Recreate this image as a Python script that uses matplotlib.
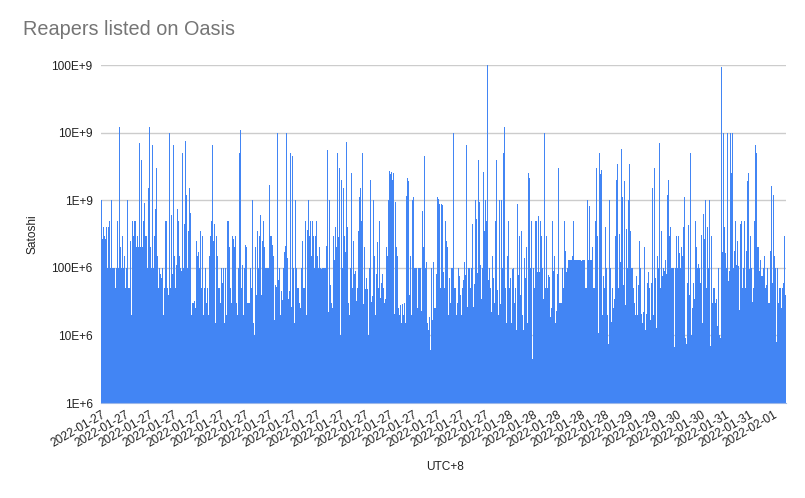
import numpy as np
import matplotlib
matplotlib.use('Agg')
import matplotlib.pyplot as plt
from matplotlib.ticker import FixedLocator, NullLocator

plt.rcParams['font.family'] = ['Liberation Sans', 'DejaVu Sans']

# Listing prices, in millions of satoshi, read left to right off the chart
prices_part1 = [
    1000, 270, 400, 300, 270, 400, 100, 400, 500, 100,
    1000, 100, 100, 100, 50, 100, 500, 100, 12000, 200,
    100, 300, 100, 150, 50, 100, 1000, 50, 50, 250,
    20, 500, 300, 500, 500, 200, 300, 200, 7000, 200,
    4000, 200, 500, 900, 300, 300, 100, 1500, 12000, 200,
    100, 6500, 100, 300, 750, 3000, 150, 50, 100, 80,
    70, 100, 20, 50, 500, 500, 50, 40, 10000, 50,
    600, 80, 6500, 150, 50, 110, 750, 500, 150, 100,
    90, 5000, 100, 450, 7500, 1200, 100, 350, 1500, 650,
    20, 30, 30, 32, 25, 250, 150, 170, 100, 350,
    50, 300, 20, 50, 100, 30, 50, 20, 150, 300,
    500, 6500, 250, 450,
]
prices_part2 = [
    15, 300, 150, 50, 50, 30, 100, 60, 100, 15,
    100, 20, 500, 500, 200, 50, 30, 300, 270, 200,
    300, 30, 20, 100, 5000, 11000, 50, 110, 20, 100,
    220, 200, 30, 30, 30, 100, 50, 1000, 15, 10,
    200, 40, 350, 100, 300, 600, 40, 250, 500, 200,
    100, 100, 100, 100, 1700, 300, 300, 220, 150, 17,
    55, 52, 10000, 65, 100, 20, 45, 33, 100, 170,
    210, 10000, 140, 35, 45, 5000, 26, 4500, 100, 15,
    1000, 100, 50, 50, 30, 25, 100, 250, 50, 50,
    500, 20, 360, 1000, 300, 500, 150, 500, 300, 100,
    300, 500, 150, 100, 200, 100, 95, 100, 100, 100,
    100, 210, 5500, 22, 1000,
]
prices_part3 = [
    55, 30, 25, 300, 130, 400, 200, 5000, 290, 3000,
    10, 2000, 100, 1500, 300, 170, 7200, 400, 30, 20,
    100, 2500, 50, 250, 80, 90, 32, 50, 350, 1100,
    1500, 500, 5000, 29, 200, 48, 70, 48, 10, 100,
    2000, 31, 38, 1000, 150, 20, 80, 240, 50, 500,
    36, 60, 80, 50, 30, 34, 200, 150, 1000, 2700,
    2400, 2600, 2000, 2500, 21, 950, 200, 150, 25, 20,
    28, 15, 29, 20, 30, 15, 1150, 2100, 1900, 40,
    150, 20, 1000, 1100, 100, 100, 100, 25, 100, 100,
    100, 23, 700, 200, 4500, 100, 120, 15, 12, 19,
    6, 100, 17, 120, 25, 25, 80, 1100, 1050, 880,
    50, 880, 850, 87, 50,
]
prices_part4 = [
    500, 250, 200, 20, 70, 30, 100, 100, 10000, 50,
    50, 20, 30, 100, 75, 40, 20, 50, 65, 120,
    77, 6600, 26, 100, 100, 50, 100, 450, 26, 57,
    1000, 530, 85, 3900, 950, 110, 35, 100, 2600, 350,
    1000, 500, 100000, 65, 100, 50, 22, 150, 70, 30,
    500, 3900, 47, 20, 1000, 29, 1000, 100, 5000, 12000,
    50, 15, 150, 500, 50, 70, 15, 97, 100, 30,
    50, 12, 870, 78, 300, 40, 350, 20, 12, 140,
    70, 200, 15, 2500, 2100, 100, 500, 4.5, 100, 50,
    500, 500, 88, 580, 88, 500, 300, 100, 34, 10000,
    50, 300, 50, 77, 72, 19, 25, 500, 90, 150,
    15, 23, 80, 3000, 30,
]
prices_part5 = [
    30, 30, 100, 50, 500, 180, 87, 100, 130, 130,
    130, 130, 150, 500, 130, 130, 130, 130, 130, 130,
    130, 125, 130, 130, 130, 50, 50, 1000, 130, 830,
    130, 130, 200, 50, 50, 500, 3000, 300, 11, 5000,
    2400, 2800, 20, 75, 50, 400, 100, 20, 7.5, 1000,
    100, 16, 50, 25, 35, 300, 2000, 3400, 50, 320,
    120, 5700, 1100, 56, 1900, 28, 380, 100, 1000, 3400,
    350, 100, 100, 50, 30, 20, 75, 20, 55, 250,
    100, 21, 15, 22, 200, 12, 21, 60, 87, 50,
    17, 60, 1500, 20, 3000, 70, 13, 150, 100, 7000,
    50, 350, 75, 100, 90, 130, 80, 1200, 2000, 300,
    400, 100, 100, 100, 6.8,
]
prices_part6 = [
    100, 300, 100, 300, 165, 100, 200, 150, 400, 1100,
    9, 7.5, 60, 430, 39, 5000, 10, 25, 60, 34,
    500, 200, 100, 115, 100, 60, 310, 15, 620, 270,
    1000, 50, 400, 100, 1000, 7, 300, 30, 50, 50,
    30, 34, 14, 100, 10, 9, 92000, 170, 10000, 400,
    165, 100, 10000, 63, 90, 10000, 2500, 10000, 100, 180,
    500, 110, 250, 108, 24, 450, 500, 50, 100, 500,
    50, 180, 1900, 2500, 95, 300, 100, 31, 50, 500,
    6500, 5000, 200, 200, 90, 130, 75, 75, 100, 150,
    50, 55, 100, 30, 30, 180, 1600, 60, 1200, 150,
    100, 8, 100, 30, 50, 50, 25, 50, 60, 300,
    40,
]

# category labels shown every 24th listing
tick_dates = (['2022-01-27'] * 17 + ['2022-01-28'] * 5 + ['2022-01-29'] * 2
              + ['2022-01-30'] * 2 + ['2022-01-31'] * 2 + ['2022-02-01'])
tick_step = 24

y_ticks = [1e6, 1e7, 1e8, 1e9, 1e10, 1e11]
y_tick_labels = ['1E+6', '10E+6', '100E+6', '1E+9', '10E+9', '100E+9']

prices = np.array(prices_part1 + prices_part2 + prices_part3
                  + prices_part4 + prices_part5 + prices_part6) * 1e6
x = np.arange(len(prices))

fig = plt.figure(figsize=(8.05, 4.98), dpi=100)
ax = fig.add_axes([101 / 805, 95 / 498, 685 / 805, 338 / 498])

ax.bar(x, prices, width=1.0, color='#4285F4', linewidth=0, zorder=2)

ax.set_yscale('log')
ax.set_ylim(1e6, 1e11)
ax.set_xlim(-0.5, len(prices) - 0.5)
ax.yaxis.set_major_locator(FixedLocator(y_ticks))
ax.yaxis.set_minor_locator(NullLocator())
ax.set_yticklabels(y_tick_labels)
ax.grid(axis='y', color='#cccccc', linewidth=1)
ax.set_axisbelow(True)

tick_pos = x[::tick_step][:len(tick_dates)]
ax.set_xticks(tick_pos)
ax.set_xticklabels(tick_dates, rotation=30, ha='right', rotation_mode='anchor')
ax.xaxis.set_minor_locator(NullLocator())

ax.tick_params(axis='both', length=0, labelsize=8.6, colors='#222222')
ax.tick_params(axis='y', pad=6)
ax.tick_params(axis='x', pad=4)

for side in ['top', 'right', 'left']:
    ax.spines[side].set_visible(False)
ax.spines['bottom'].set_color('#9db8e8')
ax.spines['bottom'].set_zorder(3)

fig.text(23 / 805, 1 - 35 / 498, 'Reapers listed on Oasis', fontsize=14.3,
         color='#757575', ha='left', va='baseline')
fig.text(32 / 805, 1 - 234 / 498, 'Satoshi', fontsize=8.6, color='#222222',
         rotation=90, ha='center', va='center')
fig.text(445 / 805, 1 - 467 / 498, 'UTC+8', fontsize=8.6, color='#222222',
         ha='center', va='center')

fig.savefig('out.png', dpi=100)
